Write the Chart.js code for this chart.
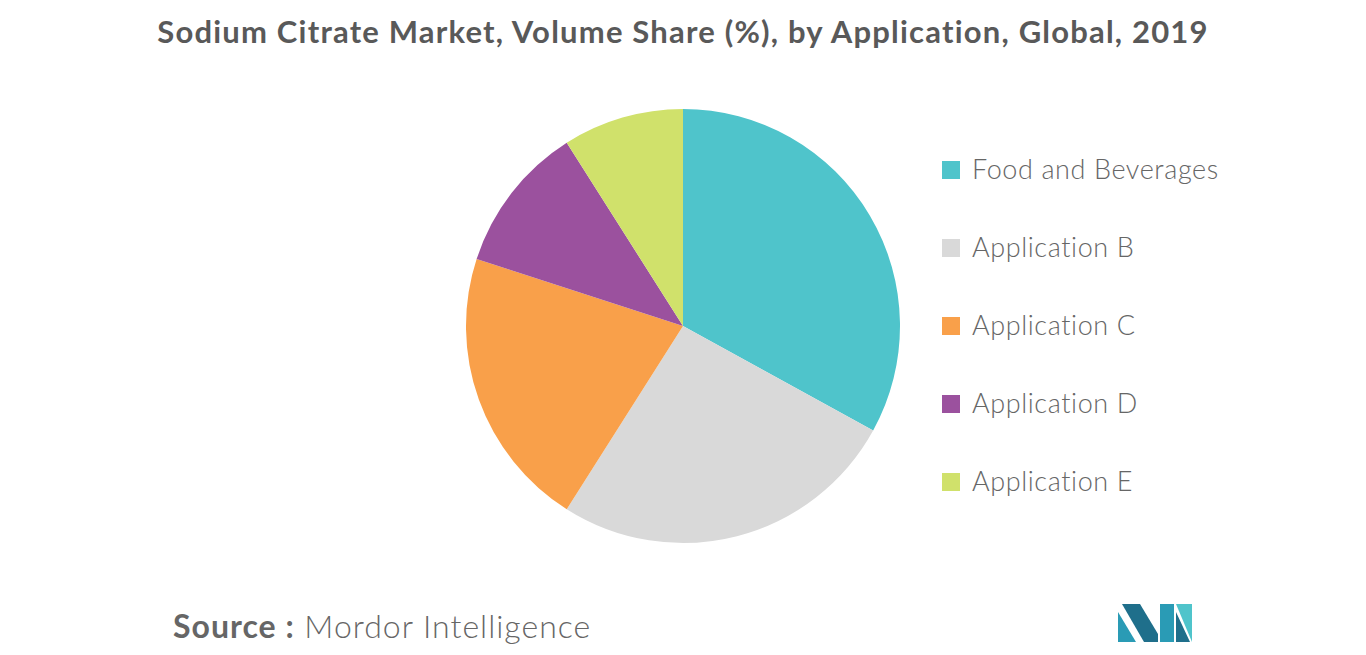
<!DOCTYPE html>
<html>
<head>
<meta charset="utf-8">
<script src="https://cdn.jsdelivr.net/npm/chart.js@4/dist/chart.umd.min.js"></script>
<style>
  body { margin: 0; width: 1366px; height: 655px; background: #fff; font-family: Lato, "Open Sans", sans-serif; position: relative; overflow: hidden; }
  #title { position: absolute; top: 12px; left: 0; width: 1366px; text-align: center; font-size: 31px; letter-spacing: 1.2px; font-weight: bold; color: #595959; }
  #wrap { position: absolute; left: 463px; top: 106px; width: 440px; height: 440px; }
  #legend { position: absolute; left: 942px; top: 152px; }
  .item { height: 78px; font-size: 27px; letter-spacing: 0.6px; font-weight: 300; color: #666; display: flex; align-items: flex-start; }
  .box { width: 18px; height: 18px; margin: 9px 12px 0 0; }
  #source { position: absolute; left: 173px; top: 606px; font-size: 32px; letter-spacing: 1px; font-weight: 300; color: #666; }
  #source b { font-weight: bold; }
  #logo { position: absolute; left: 1118px; top: 604px; }
</style>
</head>
<body>
<div id="title">Sodium Citrate Market, Volume Share (%), by Application, Global, 2019</div>
<div id="wrap"><canvas id="pie"></canvas></div>
<div id="legend"></div>
<div id="source"><b>Source :</b> Mordor Intelligence</div>
<svg id="logo" width="74" height="38" viewBox="0 0 74 38">
  <polygon points="0,38 0,8 18,38" fill="#2a9bb5"/>
  <polygon points="4,0 22,0 40,30 40,38 26,38" fill="#1f6f8b"/>
  <polygon points="42,0 56,0 56,38 42,38" fill="#2a9bb5"/>
  <polygon points="58,0 74,0 74,38" fill="#4fc4cb"/>
  <polygon points="58,8 58,38 72,38" fill="#1f6f8b"/>
</svg>
<script>
const labels = ["Food and Beverages", "Application B", "Application C", "Application D", "Application E"];
const shares = [33, 26, 21, 11, 9];
const colors = ["#4fc4cb", "#d9d9d9", "#f9a04a", "#9b519e", "#d0e16b"];

new Chart(document.getElementById("pie"), {
    type: "pie",
    data: {
        labels: labels,
        datasets: [{
            data: shares,
            backgroundColor: colors,
            borderWidth: 0
        }]
    },
    options: {
        responsive: true,
        maintainAspectRatio: false,
        animation: false,
        layout: { padding: 3 },
        plugins: {
            legend: { display: false },
            tooltip: { enabled: false }
        }
    }
});

const legend = document.getElementById("legend");
labels.forEach((label, i) => {
    const item = document.createElement("div");
    item.className = "item";
    item.innerHTML = '<div class="box" style="background:' + colors[i] + '"></div><span>' + label + '</span>';
    legend.appendChild(item);
});
</script>
</body>
</html>
